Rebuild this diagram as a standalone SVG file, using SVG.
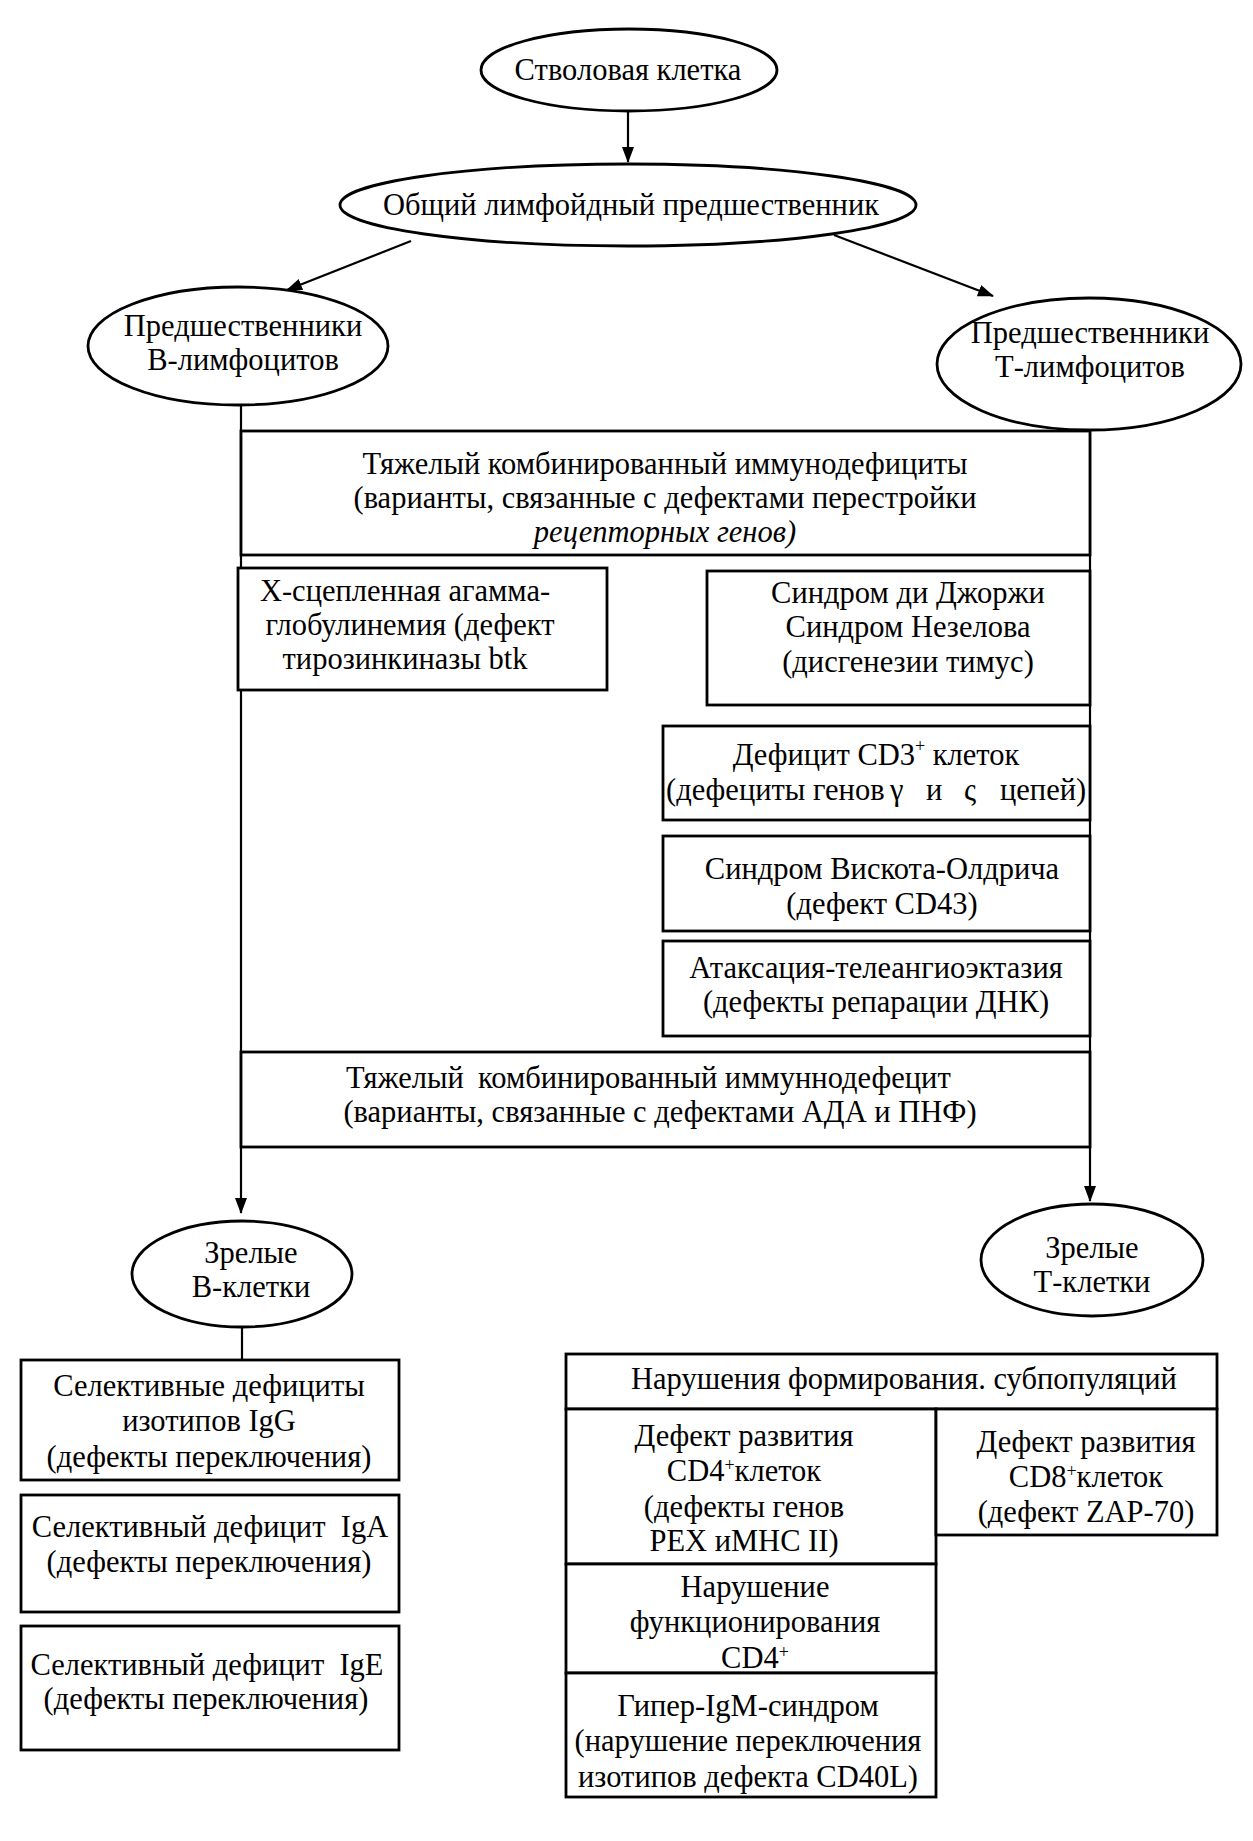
<svg xmlns="http://www.w3.org/2000/svg" width="1253" height="1841" viewBox="0 0 1253 1841">
<style>
.n ellipse,.n rect{fill:#fff;stroke:#000;stroke-width:2.8}
.c line{stroke:#000;stroke-width:2.2}
text{font-family:"Liberation Serif","Times New Roman",serif;font-size:30.5px;text-anchor:middle;fill:#000}
.sup{font-size:18px}
</style>
<defs>
<marker id="ah" viewBox="0 0 16 14" refX="15" refY="7" markerWidth="16" markerHeight="14" markerUnits="userSpaceOnUse" orient="auto">
<path d="M0,1 L16,7 L0,13 Z" fill="#000"/>
</marker>
</defs>
<rect width="1253" height="1841" fill="#fff"/>
<g class="c" id="connectors">
<line x1="628" y1="111" x2="628" y2="162" marker-end="url(#ah)"/>
<line x1="411" y1="241" x2="287" y2="290" marker-end="url(#ah)"/>
<line x1="834" y1="235" x2="993" y2="296" marker-end="url(#ah)"/>
<line x1="241" y1="405" x2="241" y2="1213" marker-end="url(#ah)"/>
<line x1="1090" y1="429" x2="1090" y2="1201" marker-end="url(#ah)"/>
<line x1="242" y1="1327" x2="242" y2="1360"/>
</g>
<g class="n" id="stem"><ellipse cx="629" cy="70" rx="148" ry="41"/><text x="628" y="80">Стволовая клетка</text></g>
<g class="n" id="common"><ellipse cx="628" cy="205" rx="288" ry="41"/><text x="631" y="215">Общий лимфойдный предшественник</text></g>
<g class="n" id="bprec"><ellipse cx="238" cy="346" rx="150" ry="59"/><text x="243" y="336">Предшественники</text><text x="243" y="370">В-лимфоцитов</text></g>
<g class="n" id="tprec"><ellipse cx="1089" cy="364" rx="152" ry="66"/><text x="1090" y="343">Предшественники</text><text x="1090" y="377">Т-лимфоцитов</text></g>
<g class="n" id="scid1"><rect x="241" y="431" width="849" height="124"/><text x="665" y="474">Тяжелый комбинированный иммунодефициты</text><text x="665" y="508">(варианты, связанные с дефектами перестройки</text><text x="665" y="542" font-style="italic">рецепторных генов)</text></g>
<g class="n" id="xla"><rect x="238" y="568" width="369" height="122"/><text x="405" y="601">Х-сцепленная агамма-</text><text x="410" y="635">глобулинемия (дефект</text><text x="405" y="669">тирозинкиназы btk</text></g>
<g class="n" id="digeorge"><rect x="707" y="571" width="383" height="134"/><text x="908" y="603">Синдром ди Джоржи</text><text x="908" y="637">Синдром Незелова</text><text x="908" y="672">(дисгенезии тимус)</text></g>
<g class="n" id="cd3"><rect x="663" y="726" width="427" height="94"/><text x="876" y="765">Дефицит CD3<tspan class="sup" dy="-13">+</tspan><tspan dy="13"> клеток</tspan></text><text y="800" style="text-anchor:start"><tspan x="666">(дефециты генов</tspan><tspan x="890">γ</tspan><tspan x="926">и</tspan><tspan x="964">ς</tspan><tspan x="1000">цепей)</tspan></text></g>
<g class="n" id="wiskott"><rect x="663" y="836" width="427" height="95"/><text x="882" y="879">Синдром Вискота-Олдрича</text><text x="882" y="914">(дефект CD43)</text></g>
<g class="n" id="ataxia"><rect x="663" y="941" width="427" height="95"/><text x="876" y="978">Атаксация-телеангиоэктазия</text><text x="876" y="1012">(дефекты репарации ДНК)</text></g>
<g class="n" id="scid2"><rect x="241" y="1052" width="849" height="95"/><text y="1088" style="text-anchor:start"><tspan x="346">Тяжелый</tspan><tspan x="478">комбинированный иммуннодефецит</tspan></text><text x="660" y="1122">(варианты, связанные с дефектами АДА и ПНФ)</text></g>
<g class="n" id="matureb"><ellipse cx="242" cy="1274" rx="110" ry="53"/><text x="251" y="1263">Зрелые</text><text x="251" y="1297">В-клетки</text></g>
<g class="n" id="maturet"><ellipse cx="1092" cy="1260" rx="111" ry="56"/><text x="1092" y="1258">Зрелые</text><text x="1092" y="1292">Т-клетки</text></g>
<g class="n" id="igg"><rect x="21" y="1360" width="378" height="120"/><text x="209" y="1396">Селективные дефициты</text><text x="209" y="1431">изотипов IgG</text><text x="209" y="1467">(дефекты переключения)</text></g>
<g class="n" id="iga"><rect x="21" y="1495" width="378" height="117"/><text x="210" y="1537" xml:space="preserve">Селективный дефицит  IgA</text><text x="209" y="1572">(дефекты переключения)</text></g>
<g class="n" id="ige"><rect x="21" y="1626" width="378" height="124"/><text x="207" y="1675" xml:space="preserve">Селективный дефицит  IgE</text><text x="206" y="1709">(дефекты переключения)</text></g>
<g class="n" id="subpop"><rect x="566" y="1354" width="651" height="55"/><text x="904" y="1389">Нарушения формирования. субпопуляций</text></g>
<g class="n" id="cd4dev"><rect x="566" y="1409" width="370" height="155"/><text x="744" y="1446">Дефект развития</text><text x="744" y="1481">CD4<tspan class="sup" dy="-10">+</tspan><tspan dy="10">клеток</tspan></text><text x="744" y="1517">(дефекты генов</text><text x="744" y="1551">PEX иMHC II)</text></g>
<g class="n" id="cd8dev"><rect x="936" y="1409" width="281" height="126"/><text x="1086" y="1452">Дефект развития</text><text x="1086" y="1487">CD8<tspan class="sup" dy="-10">+</tspan><tspan dy="10">клеток</tspan></text><text x="1086" y="1522">(дефект ZAP-70)</text></g>
<g class="n" id="cd4func"><rect x="566" y="1564" width="370" height="109"/><text x="755" y="1597">Нарушение</text><text x="755" y="1632">функционирования</text><text x="755" y="1668">CD4<tspan class="sup" dy="-10">+</tspan></text></g>
<g class="n" id="higm"><rect x="566" y="1673" width="370" height="124"/><text x="748" y="1716">Гипер-IgM-синдром</text><text x="748" y="1751">(нарушение переключения</text><text x="748" y="1787">изотипов дефекта CD40L)</text></g>
</svg>
